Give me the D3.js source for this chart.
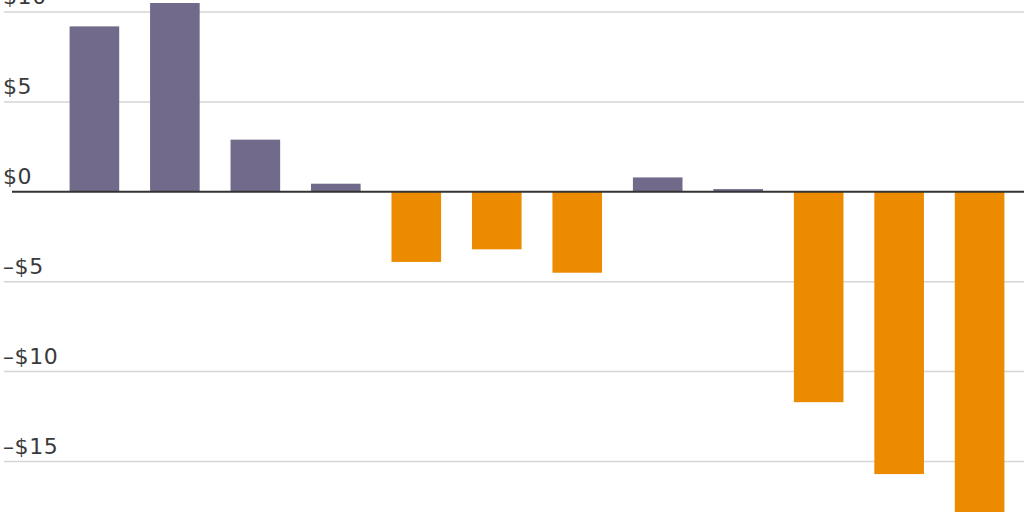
<!DOCTYPE html>
<html>
<head>
<meta charset="utf-8">
<script src="https://cdn.jsdelivr.net/npm/d3@7"></script>
<style>
  body { margin: 0; background: #fff; }
  .tick-label { font-family: "DejaVu Sans", sans-serif; font-size: 22px; letter-spacing: 0.6px; fill: #3a3a3a; }
</style>
</head>
<body>
<div id="chart"></div>
<script>
var svgWidth = 1024;
var svgHeight = 512;

// bar values (last one runs off the bottom)
var categories = ["a", "b", "c", "d", "e", "f", "g", "h", "i", "j", "k", "l"];
var values = [9.2, 10.5, 2.9, 0.45, -3.9, -3.2, -4.5, 0.8, 0.15, -11.7, -15.7, -18.5];
var tickValues = [10, 5, 0, -5, -10, -15];
var tickLabels = ["$10", "$5", "$0", "\u2013$5", "\u2013$10", "\u2013$15"];

var purple = "#726a8a";
var orange = "#ec8b00";

var svg = d3.select("#chart")
  .append("svg")
  .attr("width", svgWidth)
  .attr("height", svgHeight);

var y = d3.scaleLinear()
  .domain([10, -15])
  .range([12, 461.5]);

var x = d3.scaleBand()
  .domain(categories)
  .range([54.3, 1019.7])
  .paddingInner(0.3835)
  .paddingOuter(0.19);

// gridlines
svg.append("g")
  .selectAll("line")
  .data(tickValues.filter(d => d !== 0))
  .enter()
  .append("line")
  .attr("x1", 4)
  .attr("x2", svgWidth)
  .attr("y1", d => y(d))
  .attr("y2", d => y(d))
  .attr("stroke", "#d5d5d5")
  .attr("stroke-width", 1.5);

// tick labels sit just above their line
svg.append("g")
  .selectAll("text")
  .data(tickValues)
  .enter()
  .append("text")
  .attr("class", "tick-label")
  .attr("x", 3)
  .attr("y", d => y(d) - 8)
  .text((d, i) => tickLabels[i]);

// bars
svg.append("g")
  .selectAll("rect")
  .data(values)
  .enter()
  .append("rect")
  .attr("x", (d, i) => x(categories[i]))
  .attr("width", x.bandwidth())
  .attr("y", d => d >= 0 ? y(d) : y(0))
  .attr("height", d => Math.abs(y(d) - y(0)))
  .attr("fill", d => d >= 0 ? purple : orange);

// zero line
svg.append("line")
  .attr("x1", 12)
  .attr("x2", svgWidth)
  .attr("y1", y(0))
  .attr("y2", y(0))
  .attr("stroke", "#333")
  .attr("stroke-width", 2);
</script>
</body>
</html>
